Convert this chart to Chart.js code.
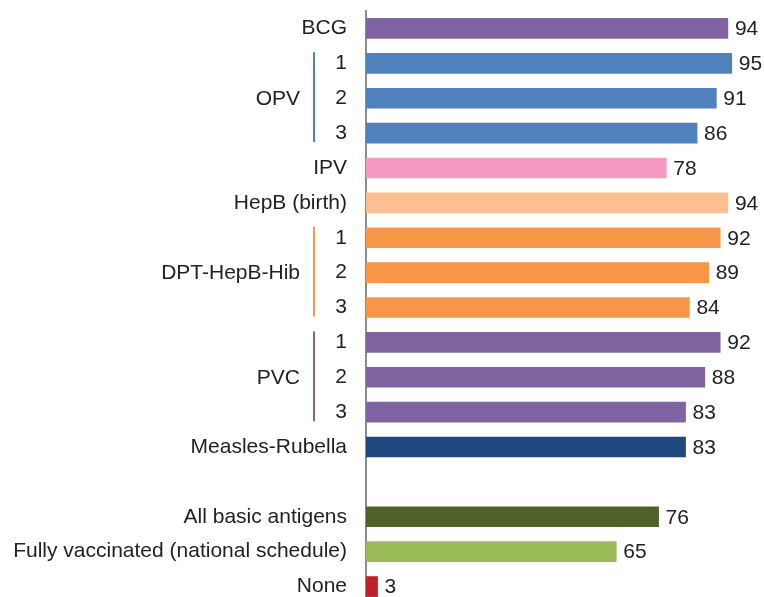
<!DOCTYPE html>
<html>
<head>
<meta charset="utf-8">
<script src="https://cdn.jsdelivr.net/npm/chart.js@4.4.1/dist/chart.umd.min.js"></script>
<style>
html,body{margin:0;padding:0;background:#fff;overflow:hidden;}
#wrap{width:764px;height:612px;}
</style>
</head>
<body>
<div id="wrap"><canvas id="c" width="764" height="612"></canvas></div>
<script>
// Row labels (tick labels on the category axis)
const rowLabels = ["BCG","1","2","3","IPV","HepB (birth)","1","2","3","1","2","3","Measles-Rubella","","All basic antigens","Fully vaccinated (national schedule)","None"];
// Percent vaccinated
const values = [94,95,91,86,78,94,92,89,84,92,88,83,83,null,76,65,3];
// Bar colours per row
const barColors = ["#8064a2","#4f81bd","#4f81bd","#4f81bd","#f49ac1","#fac090","#f79646","#f79646","#f79646","#8064a2","#8064a2","#8064a2","#1f497d","#ffffff","#4f6228","#9bbb59","#c0202a"];
// Group labels: name, first row index, last row index, colour of bracket line
const groupNames = ["OPV","DPT-HepB-Hib","PVC"];
const groupFirst = [1,6,9];
const groupLast = [3,8,11];
const groupColors = ["#4f81bd","#f79646","#8064a2"];

const FONT = "'Liberation Sans', Arial, sans-serif";
const FS = 21;

const overlay = {
  id:'overlay',
  afterDatasetsDraw(chart){
    const ctx = chart.ctx;
    const meta = chart.getDatasetMeta(0);
    const ys = chart.scales.y;
    ctx.save();
    ctx.font = FS + "px " + FONT;
    ctx.fillStyle = "#222";
    ctx.textBaseline = "middle";
    ctx.textAlign = "left";
    meta.data.forEach((bar,i)=>{
      if (values[i] === null) return;
      ctx.fillText(String(values[i]), bar.x + 7, bar.y + 1);
    });
    // group labels and brackets
    groupNames.forEach((name,g)=>{
      const y1 = ys.getPixelForValue(groupFirst[g]);
      const y2 = ys.getPixelForValue(groupLast[g]);
      ctx.strokeStyle = groupColors[g];
      ctx.lineWidth = 2;
      ctx.beginPath();
      ctx.moveTo(314, y1 - 11);
      ctx.lineTo(314, y2 + 9);
      ctx.stroke();
      ctx.textAlign = "right";
      ctx.fillStyle = "#222";
      ctx.fillText(name, 300, (y1 + y2) / 2 + 1);
    });
    ctx.restore();
  }
};

new Chart(document.getElementById('c'), {
  type: 'bar',
  data: {
    labels: rowLabels,
    datasets: [{
      data: values,
      backgroundColor: barColors,
      borderWidth: 0,
      barThickness: 20
    }]
  },
  options: {
    indexAxis: 'y',
    responsive: false,
    animation: false,
    layout: { padding: { top: 11, bottom: 8, left: 0, right: 13 } },
    plugins: { legend: { display: false }, tooltip: { enabled: false } },
    scales: {
      x: { display: false, min: 0, max: 100 },
      y: {
        afterFit(scale){ scale.width = 366; scale.paddingTop = 0; scale.paddingBottom = 0; },
        grid: { display: false, drawTicks: false },
        border: { display: true, color: "#8c8c8c", width: 2 },
        ticks: { padding: 19, color: "#222", font: { family: FONT, size: FS }, autoSkip: false }
      }
    }
  },
  plugins: [overlay]
});
</script>
</body>
</html>
